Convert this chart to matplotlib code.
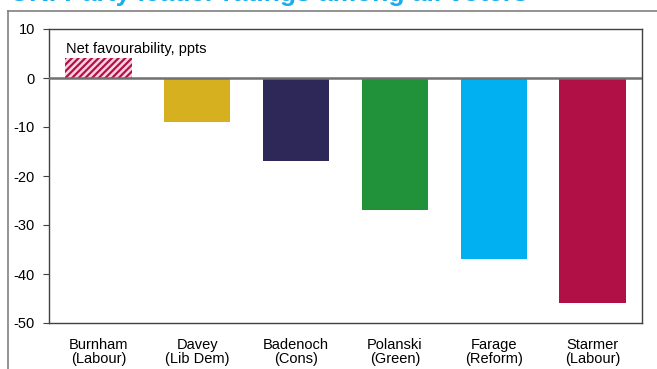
import matplotlib
matplotlib.use("Agg")
import matplotlib.pyplot as plt
from matplotlib.lines import Line2D

leaders = ["Burnham\n(Labour)", "Davey\n(Lib Dem)", "Badenoch\n(Cons)",
           "Polanski\n(Green)", "Farage\n(Reform)", "Starmer\n(Labour)"]
net_fav = [4, -9, -17, -27, -37, -46]
bar_colors = ["#b01045", "#d6b01f", "#2d2858", "#21913a", "#00b0f0", "#b01045"]
hatched = [True, False, False, False, False, False]

title = "UK: Party leader ratings among all voters"
ylabel_note = "Net favourability, ppts"
yticks = [10, 0, -10, -20, -30, -40, -50]

plt.rcParams["font.family"] = ["Liberation Sans", "DejaVu Sans"]
plt.rcParams["hatch.linewidth"] = 1.8

fig = plt.figure(figsize=(6.57, 3.69), dpi=100)
ax = fig.add_axes([49 / 657, 1 - 323 / 369, 593 / 657, 294 / 369])

for i, (v, c, h) in enumerate(zip(net_fav, bar_colors, hatched)):
    if h:
        ax.bar(i, v, width=0.67, color=c, edgecolor="#fbd3e0",
               hatch="/////", linewidth=0)
    else:
        ax.bar(i, v, width=0.67, color=c, linewidth=0)

ax.axhline(0, color="#707070", lw=1.8, zorder=3)
ax.set_xlim(-0.5, 5.5)
ax.set_ylim(-50, 10)
ax.set_yticks(yticks)
ax.set_yticklabels([str(t) for t in yticks])
ax.set_xticks(range(len(leaders)))
ax.set_xticklabels(leaders, linespacing=1.0)
ax.tick_params(axis="x", length=0, pad=11, labelsize=10.5)
ax.tick_params(axis="y", direction="out", length=4, color="#404040",
               labelsize=10.5, pad=6)
for s in ax.spines.values():
    s.set_color("#404040")
    s.set_linewidth(1.0)

ax.text(0.028, 0.955, ylabel_note, transform=ax.transAxes,
        fontsize=10.5, va="top", ha="left")

# outer frame, partly cut by the image edge
fig.add_artist(Line2D([8 / 657, 8 / 657], [0, 1 - 11 / 369],
                      transform=fig.transFigure, color="#808080", lw=1.2))
fig.add_artist(Line2D([8 / 657, 1], [1 - 11 / 369, 1 - 11 / 369],
                      transform=fig.transFigure, color="#808080", lw=1.2))

fig.text(10 / 657, 1 - 6 / 369, title, fontsize=19, fontweight="bold",
         color="#19aeed", ha="left", va="bottom")

fig.savefig("out.png", dpi=100)
